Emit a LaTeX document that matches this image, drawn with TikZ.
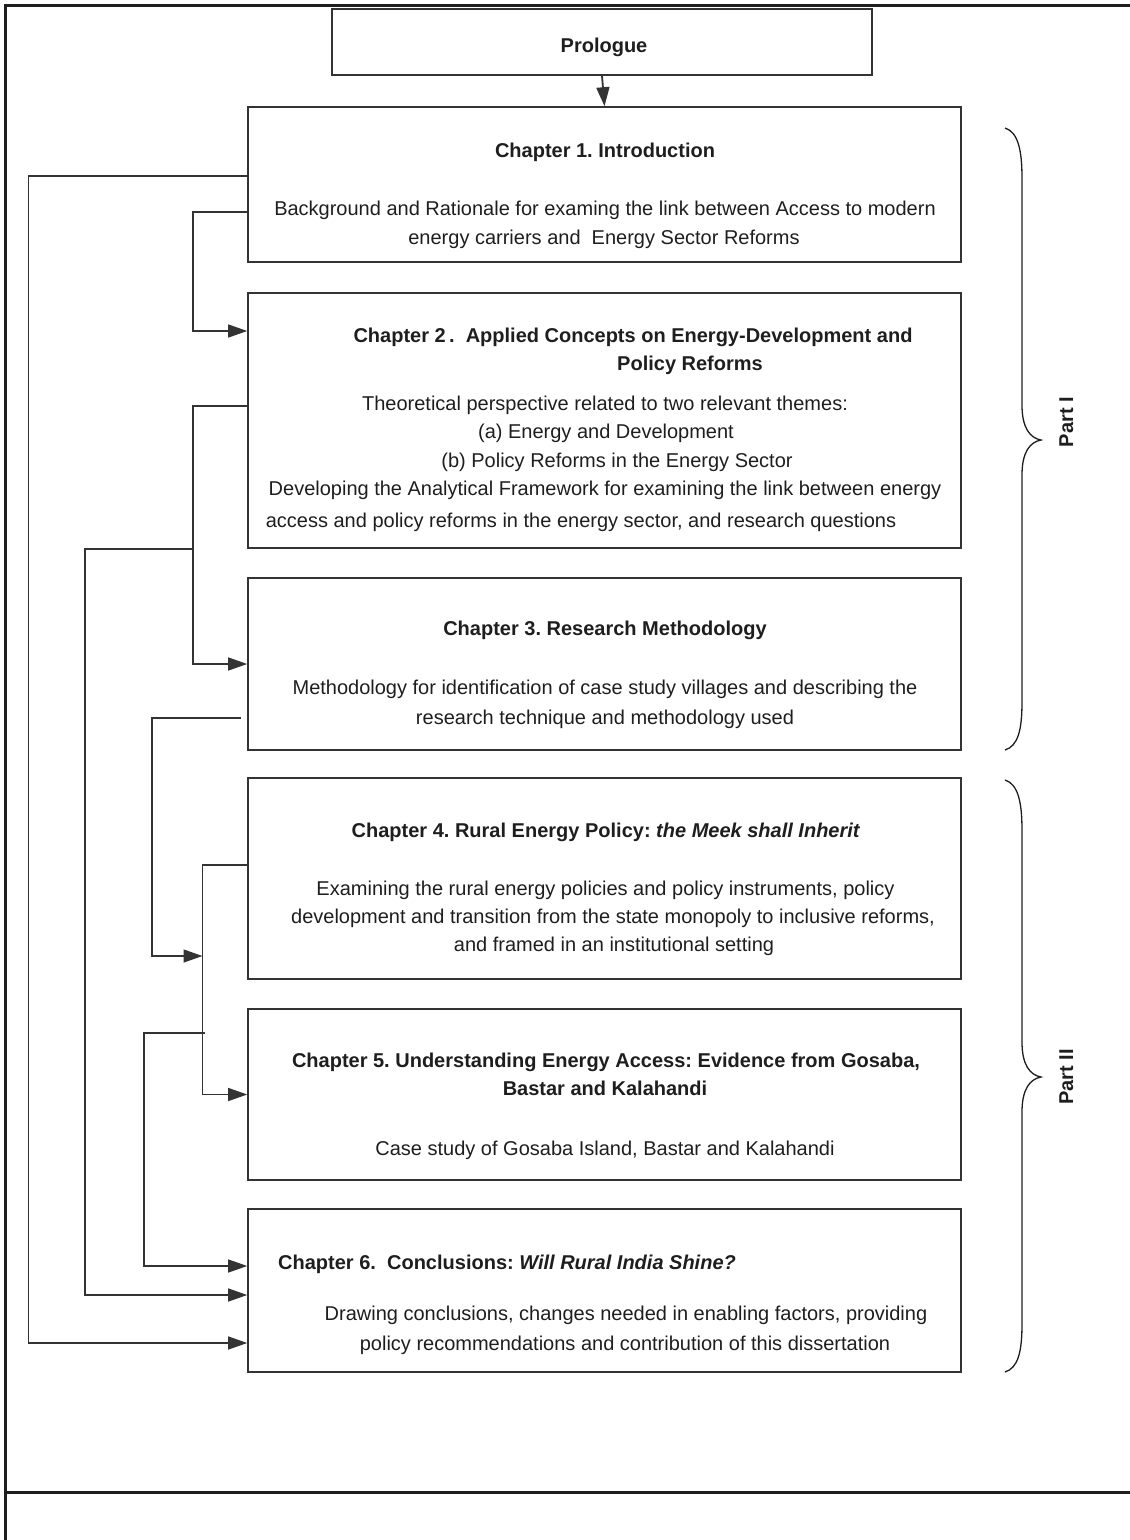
\documentclass[tikz,border=0pt]{standalone}
\usepackage{fontspec}
\setmainfont{Liberation Sans}
\usetikzlibrary{arrows.meta,calc}
\definecolor{ink}{HTML}{1E1E1E}
\definecolor{edge}{HTML}{333333}
\frenchspacing
\begin{document}
\begin{tikzpicture}[x=1pt,y=-1pt,
  box/.style={draw=edge,line width=1.6pt,rectangle,inner sep=0pt,minimum width=713pt},
  txt/.style={font=\fontsize{20}{24}\selectfont,text=ink,inner sep=0pt,text height=14pt,text depth=0pt},
  ttl/.style={txt,font=\fontsize{20}{24}\selectfont\bfseries},
  wire/.style={draw=edge,line width=1.3pt},
  arr/.style={wire,-{Triangle[length=19pt,width=13pt]}},
  frameline/.style={draw=ink,line width=3pt},
  brc/.style={draw=ink,line width=1.3pt}]
\useasboundingbox (0,0) rectangle (1130,1540);

% page frame
\draw[frameline] (5,1540) -- (5,5) -- (1130,5);
\draw[frameline] (5,1492) -- (1130,1492);

% boxes
\node[box,minimum width=540pt,minimum height=66pt] (pro) at (602,42) {};
\node[box,minimum height=155pt] (c1) at (604.5,184.5) {};
\node[box,minimum height=255pt] (c2) at (604.5,420.5) {};
\node[box,minimum height=172pt] (c3) at (604.5,664) {};
\node[box,minimum height=201pt] (c4) at (604.5,878.5) {};
\node[box,minimum height=171pt] (c5) at (604.5,1094.5) {};
\node[box,minimum height=163pt] (c6) at (604.5,1290.5) {};

% texts
\node[ttl] (tpro) at (604,45) {Prologue};

\node[ttl] (t1a) at (605,150) {Chapter 1. Introduction};
\node[txt] (t1b) at (605,208) {Background and Rationale for examing the link between Access to modern};
\node[txt] (t1c) at (604,237) {energy carriers and\ \ Energy Sector Reforms};

\node[ttl] (t2a) at (633,335) {Chapter 2\,.\ \ Applied Concepts on Energy-Development and};
\node[ttl] (t2b) at (690,363) {Policy Reforms};
\node[txt] (t2c) at (605,403) {Theoretical perspective related to two relevant themes:};
\node[txt] (t2d) at (606,431) {(a) Energy and Development};
\node[txt] (t2e) at (617,460) {(b) Policy Reforms in the Energy Sector};
\node[txt] (t2f) at (605,488) {Developing the Analytical Framework for examining the link between energy};
\node[txt] (t2g) at (581,520) {access and policy reforms in the energy sector, and research questions};

\node[ttl] (t3a) at (605,628) {Chapter 3. Research Methodology};
\node[txt] (t3b) at (605,687) {Methodology for identification of case study villages and describing the};
\node[txt] (t3c) at (605,717) {research technique and methodology used};

\node[ttl] (t4a) at (606,830) {Chapter 4. Rural Energy Policy: \textit{the Meek shall Inherit}};
\node[txt] (t4b) at (605.5,888) {Examining the rural energy policies and policy instruments, policy};
\node[txt] (t4c) at (613,916) {development and transition from the state monopoly to inclusive reforms,};
\node[txt] (t4d) at (614,944) {and framed in an institutional setting};

\node[ttl] (t5a) at (606,1060) {Chapter 5. Understanding Energy Access: Evidence from Gosaba,};
\node[ttl] (t5b) at (605,1088) {Bastar and Kalahandi};
\node[txt] (t5c) at (605,1148) {Case study of Gosaba Island, Bastar and Kalahandi};

\node[ttl,anchor=west] (t6a) at (278,1262) {Chapter 6.\ \ Conclusions: \textit{Will Rural India Shine?}};
\node[txt] (t6b) at (626,1313) {Drawing conclusions, changes needed in enabling factors, providing};
\node[txt] (t6c) at (625,1343) {policy recommendations and contribution of this dissertation};

% prologue to chapter 1
\draw[arr,line width=1.8pt] (pro.south) -- (c1.north);

% chapter 1 to chapter 6 (outer loop)
\coordinate (o1) at (28.5,176);
\coordinate (o2) at (0,1343);
\draw[arr] (c1.west |- o1) -- (o1) |- (c6.west |- o2);

% chapter 1 to chapter 2
\coordinate (b1) at (193,212);
\coordinate (b2) at (0,331);
\draw[arr] (c1.west |- b1) -- (b1) |- (c2.west |- b2);

% chapter 2 to chapter 3, with a branch to chapter 6
\coordinate (d1) at (193,406);
\draw[arr] (c2.west |- d1) -- (d1) |- (c3.west);
\coordinate (d2) at (193,549);
\coordinate (d3) at (85,549);
\coordinate (d4) at (0,1295);
\draw[arr] (d2) -- (d3) |- (c6.west |- d4);

% chapter 4 to chapter 5
\coordinate (f1) at (202.5,865);
\draw[arr] (c4.west |- f1) -- (f1) |- (c5.west);

% chapter 3 joining the chapter 4 line
\coordinate (e1) at (152,718);
\coordinate (e2) at (0,956);
\draw[arr] ($(c3.west |- e1)+(-6,0)$) -- (e1) |- (f1 |- e2);

% branch from the chapter 4 line to chapter 6
\coordinate (g1) at (205,1033);
\coordinate (g2) at (144,1033);
\coordinate (g3) at (0,1266);
\draw[arr] (g1) -- (g2) |- (c6.west |- g3);

% part braces
\draw[brc] (1005,128) .. controls (1018,132) and (1022,150) .. (1022,178)
  -- (1022,405) .. controls (1022,428) and (1030,438) .. (1041,440)
  .. controls (1030,442) and (1022,452) .. (1022,475)
  -- (1022,702) .. controls (1022,730) and (1018,746) .. (1005,750);
\node[ttl,rotate=90] (pI) at (1066,422) {Part I};

\draw[brc] (1005,780) .. controls (1018,784) and (1022,802) .. (1022,830)
  -- (1022,1042) .. controls (1022,1065) and (1030,1075) .. (1041,1077)
  .. controls (1030,1079) and (1022,1089) .. (1022,1112)
  -- (1022,1324) .. controls (1022,1352) and (1018,1368) .. (1005,1372);
\node[ttl,rotate=90] (pII) at (1066,1077) {Part II};
\end{tikzpicture}
\end{document}
